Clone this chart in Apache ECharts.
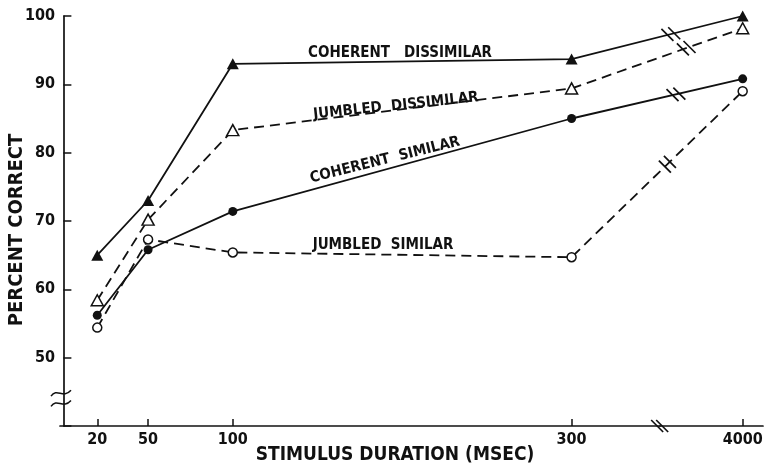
<!DOCTYPE html>
<html><head><meta charset="utf-8">
<script src="https://cdn.jsdelivr.net/npm/echarts@6/dist/echarts.min.js"></script>
<style>html,body{margin:0;padding:0;background:#fff}#c{width:766px;height:465px}</style>
</head><body><div id="c"></div>
<script>
// ---- data ----
const durations = [20, 50, 100, 300, 4000];
const durationLabels = ['20', '50', '100', '300', '4000'];
const coherentDissimilar = [65.0, 73.0, 93.0, 93.7, 100.0];
const jumbledDissimilar  = [58.4, 70.2, 83.3, 89.4, 98.2];
const coherentSimilar    = [56.2, 65.8, 71.4, 85.0, 90.8];
const jumbledSimilar     = [54.4, 67.3, 65.4, 64.7, 89.0];
const yTicks = [50, 60, 70, 80, 90, 100];
const seriesNames = ['COHERENT   DISSIMILAR', 'JUMBLED  DISSIMILAR', 'COHERENT  SIMILAR', 'JUMBLED  SIMILAR'];

const FONT = '"DejaVu Sans Condensed", "DejaVu Sans", sans-serif';
const INK = '#111';

function pairs(vals) { return durations.map((d, i) => [d, vals[i]]); }

function mkSeries(name, vals, symbol, filled, dashed) {
  return {
    name, type: 'line', data: pairs(vals),
    symbol, symbolSize: symbol === 'triangle' ? [12, 11] : 9,
    showSymbol: true,
    lineStyle: { color: INK, width: 1.8, type: dashed ? [10, 6] : 'solid' },
    itemStyle: { color: filled ? INK : '#fff', borderColor: INK, borderWidth: filled ? 0 : 1.5 },
    z: 3
  };
}

const chart = echarts.init(document.getElementById('c'));
chart.setOption({
  animation: false,
  backgroundColor: '#fff',
  grid: { left: 60, right: 3, top: 16, bottom: 39 },
  xAxis: {
    type: 'value', min: -2, max: 4012,
    breaks: [{ start: 352, end: 3951, gap: 0 }],
    breakArea: { show: false },
    axisLine: { show: true, lineStyle: { color: INK, width: 1.7 } },
    axisTick: { show: true, inside: true, length: 7, customValues: durations, lineStyle: { color: INK, width: 1.5 } },
    axisLabel: { show: true, customValues: durations, margin: 6, color: INK, fontFamily: FONT, fontSize: 16, fontWeight: 'bold',
      formatter: v => durationLabels[durations.indexOf(v)] || '' },
    splitLine: { show: false }
  },
  yAxis: {
    type: 'value', min: 40, max: 100, interval: 10,
    axisLine: { show: true, lineStyle: { color: INK, width: 1.7 } },
    axisTick: { show: true, inside: true, length: 8, lineStyle: { color: INK, width: 1.5 } },
    axisLabel: { show: true, margin: 5, color: INK, fontFamily: FONT, fontSize: 16, fontWeight: 'bold',
      formatter: v => (yTicks.indexOf(v) >= 0 ? String(v) : '') },
    splitLine: { show: false }
  },
  series: [
    mkSeries(seriesNames[0], coherentDissimilar, 'triangle', true, false),
    mkSeries(seriesNames[1], jumbledDissimilar, 'triangle', false, true),
    mkSeries(seriesNames[2], coherentSimilar, 'circle', true, false),
    mkSeries(seriesNames[3], jumbledSimilar, 'circle', false, true)
  ]
});

// ---- decorations: break marks and annotations ----
const px = (x, y) => chart.convertToPixel({ xAxisIndex: 0, yAxisIndex: 0 }, [x, y]);
const g = [];
function slashPair(cx, cy, dx, dy, half) {
  [-1, 1].forEach(s => {
    const x = cx + s * dx, y = cy + s * dy;
    g.push({ type: 'line', shape: { x1: x - half, y1: y - half, x2: x + half, y2: y + half },
      style: { stroke: INK, lineWidth: 1.7 }, z: 10 });
  });
}
// line-segment breaks between 300 and 4000
const allSeries = [coherentDissimilar, jumbledDissimilar, coherentSimilar, jumbledSimilar];
const fracs = [0.58, 0.67, 0.61, 0.56];
allSeries.forEach((vals, i) => {
  const a = px(300, vals[3]), b = px(4000, vals[4]);
  const f = fracs[i];
  const cx = a[0] + f * (b[0] - a[0]), cy = a[1] + f * (b[1] - a[1]);
  const L = Math.hypot(b[0] - a[0], b[1] - a[1]);
  const ux = (b[0] - a[0]) / L, uy = (b[1] - a[1]) / L;
  slashPair(cx, cy, ux * 3.5, uy * 3.5, 6);
});
// x-axis break
const xb = px(352, 40);
slashPair(xb[0], xb[1], 2.5, 0, 6);
// y-axis break tildes
[44.8, 43.3].forEach(v => {
  const p = px(-2, v);
  g.push({ type: 'bezierCurve', shape: { x1: p[0] - 9, y1: p[1] + 3, cpx1: p[0] - 3, cpy1: p[1] - 6, cpx2: p[0] + 3, cpy2: p[1] + 6, x2: p[0] + 11, y2: p[1] - 3 },
    style: { stroke: INK, lineWidth: 1.5, fill: null }, z: 10 });
});
// series annotations
const ann = [
  { t: seriesNames[0], x: 400, y: 53, r: 0 },
  { t: seriesNames[1], x: 396, y: 106, r: 6 },
  { t: seriesNames[2], x: 385, y: 160, r: 14 },
  { t: seriesNames[3], x: 383, y: 245, r: 0 }
];
ann.forEach(a => g.push({ type: 'text', x: a.x, y: a.y, rotation: a.r * Math.PI / 180,
  style: { text: a.t, fill: INK, font: 'bold 15px ' + FONT, align: 'center', verticalAlign: 'middle' }, z: 10 }));
// axis titles
g.push({ type: 'text', x: 17, y: 230, rotation: Math.PI / 2,
  style: { text: 'PERCENT CORRECT', fill: INK, font: 'bold 20px ' + FONT, align: 'center', verticalAlign: 'middle' } });
g.push({ type: 'text', x: 395, y: 455,
  style: { text: 'STIMULUS DURATION (MSEC)', fill: INK, font: 'bold 19px ' + FONT, align: 'center', verticalAlign: 'middle' } });
chart.setOption({ graphic: g });
</script></body></html>
